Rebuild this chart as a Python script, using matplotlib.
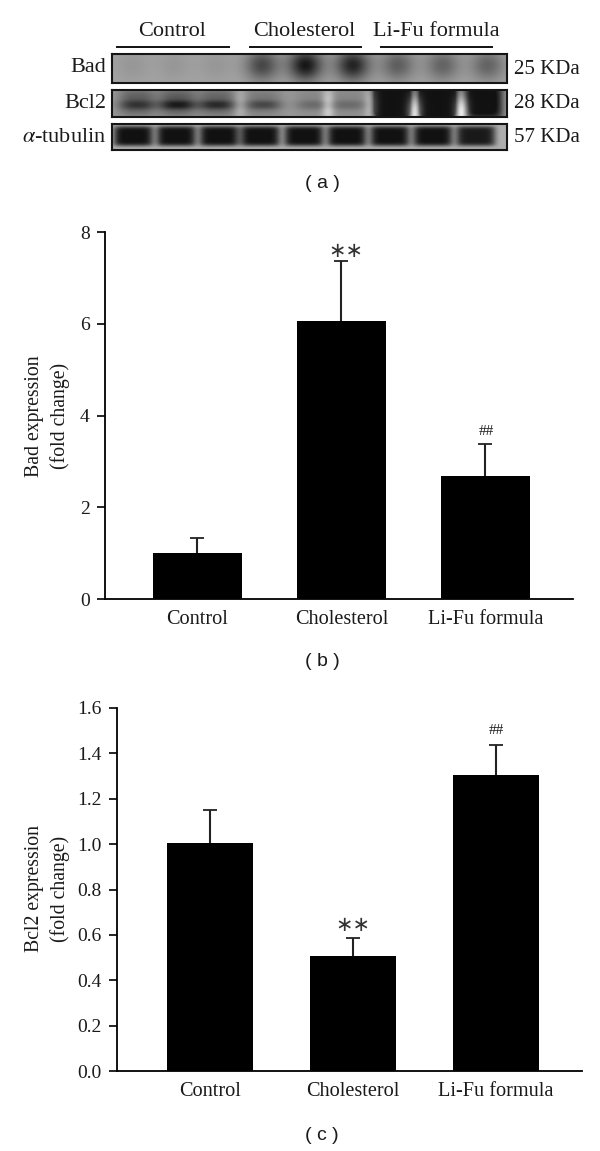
import matplotlib
matplotlib.use('Agg')
import matplotlib.pyplot as plt
import numpy as np

W, H = 600, 1151

groups = ['Control', 'Cholesterol', 'Li-Fu formula']
bad_mean = [1.0, 6.05, 2.68]
bad_err = [0.33, 1.31, 0.69]
bcl2_mean = [1.005, 0.505, 1.305]
bcl2_err = [0.145, 0.083, 0.13]

# blot lanes: centre (fraction of panel width) and darkness
bad_lanes = [.05, .156, .263, .38, .49, .61, .724, .838, .952]
bad_dark = [.05, .05, .05, .36, .55, .50, .27, .25, .25]
bcl2_lanes = [.063, .165, .265, .383, .51, .60]
bcl2_smear = [.24, .26, .22, .14, .08, .08]
bcl2_band = [.16, .24, .22, .18, .10, .10]
bcl2_gaps = [.324, .547, .658]
bcl2_gap_light = [.12, .26, .24]
lifu_lanes = [.71, .825, .94]
lifu_dark = [.95, .95, .60]
lifu_gaps = [.767, .886]
lifu_gap_light = [.50, .50]
tub_lanes = [.053, .162, .271, .375, .486, .595, .704, .813, .922]
tub_dark = [.62, .62, .62, .62, .62, .62, .62, .62, .58]

plt.rcParams['font.family'] = ['Liberation Serif', 'DejaVu Serif']
plt.rcParams['mathtext.fontset'] = 'stix'

fig = plt.figure(figsize=(W / 100, H / 100), dpi=100, facecolor='white')


def ax_px(left, top, right, bottom):
    return fig.add_axes([left / W, 1 - bottom / H, (right - left) / W, (bottom - top) / H])


def txt(x, y, s, **kw):
    kw.setdefault('ha', 'center')
    kw.setdefault('va', 'center')
    kw.setdefault('color', '#1a1a1a')
    fig.text(x / W, 1 - y / H, s, **kw)


def blob(xx, yy, cx, cy, sx, sy, power):
    return np.exp(-(np.abs(xx - cx) / sx) ** power - (np.abs(yy - cy) / sy) ** power)


def blot(top, bottom, bg, layers):
    ax = ax_px(112, top, 507, bottom)
    xx, yy = np.meshgrid(np.linspace(0, 1, 395), np.linspace(0, 1, bottom - top))
    img = np.full(xx.shape, bg)
    for lanes, dark, cy, sx, sy, power in layers:
        for c, d in zip(lanes, dark):
            img = np.clip(img - d * blob(xx, yy, c, cy, sx, sy, power), 0.07, 1)
    ax.imshow(img, cmap='gray', vmin=0, vmax=1, aspect='auto', interpolation='bilinear')
    ax.set_xticks([])
    ax.set_yticks([])
    for s in ax.spines.values():
        s.set_linewidth(1.5)
        s.set_color('#151515')


blot(54, 83, 0.64, [(bad_lanes, bad_dark, 0.38, 0.042, 0.55, 2)])
blot(90, 117, 0.60, [(bcl2_lanes, bcl2_smear, 0.45, 0.048, 0.55, 3),
                     (bcl2_lanes, bcl2_band, 0.55, 0.046, 0.17, 2.5),
                     (lifu_lanes, lifu_dark, 0.42, 0.05, 0.70, 5),
                     (bcl2_gaps, [-g for g in bcl2_gap_light], 0.6, 0.016, 0.8, 2),
                     (lifu_gaps, [-g for g in lifu_gap_light], 0.8, 0.018, 0.6, 2)])
blot(124, 150, 0.68, [(tub_lanes, tub_dark, 0.46, 0.05, 0.40, 6)])

# header of the blot
for name, x0, x1 in zip(groups, [117, 250, 381], [229, 361, 492]):
    fig.add_artist(plt.Line2D([x0 / W, x1 / W], [1 - 47 / H] * 2, color='#111111', lw=1.4))
txt(172, 32, 'Control', fontsize=16)
txt(304, 32, 'Cholesterol', fontsize=16)
txt(436, 32, 'Li-Fu formula', fontsize=16)

txt(106, 68, 'Bad', ha='right', fontsize=16)
txt(106, 103, 'Bcl2', ha='right', fontsize=16)
txt(106, 137, r'$\alpha$-tubulin', ha='right', fontsize=16)
txt(514, 69, '25 KDa', ha='left', fontsize=15)
txt(514, 104, '28 KDa', ha='left', fontsize=15)
txt(514, 138, '57 KDa', ha='left', fontsize=15)

for lab, y in zip(['( a )', '( b )', '( c )'], [184, 661, 1135]):
    txt(322, y, lab, fontsize=14, family='Liberation Sans')


def bars(ax, means, errs, width, xlim, ymax, ticks, ticklabels):
    x = np.arange(len(means))
    tops = np.array(means) + np.array(errs)
    ax.bar(x, means, width=width, color='black')
    ax.vlines(x, means, tops, color='#222222', lw=1.5)
    ax.plot(x, tops, linestyle='none', marker='_', ms=10, mew=1.3, color='#222222')
    ax.set_xlim(*xlim)
    ax.set_ylim(0, ymax)
    ax.set_xticks(x)
    ax.set_xticklabels(groups, fontsize=14.6, color='#1a1a1a')
    ax.set_yticks(ticks)
    ax.set_yticklabels(ticklabels, fontsize=14, color='#1a1a1a')
    ax.tick_params(axis='x', length=0, pad=8)
    ax.tick_params(axis='y', length=6, width=1.2, pad=5)
    ax.spines['top'].set_visible(False)
    ax.spines['right'].set_visible(False)
    ax.spines['left'].set_linewidth(1.3)
    ax.spines['bottom'].set_linewidth(1.3)
    ax.patch.set_alpha(0)


# panel b
ax_b = ax_px(105, 232, 573, 599)
bars(ax_b, bad_mean, bad_err, 0.62, (-0.642, 2.608), 8, [0, 2, 4, 6, 8], ['0', '2', '4', '6', '8'])
txt(34, 416, 'Bad expression', rotation=90, fontsize=14.2)
txt(60, 416, '(fold change)', rotation=90, fontsize=14.2)
txt(346, 251, '∗∗', fontsize=15, family='DejaVu Sans', color='#333333')
txt(486, 432, '##', fontsize=11)

# panel c
ax_c = ax_px(117, 708, 582, 1071)
bars(ax_c, bcl2_mean, bcl2_err, 0.60, (-0.65, 2.60), 1.6,
     [0, .2, .4, .6, .8, 1.0, 1.2, 1.4, 1.6],
     ['0.0', '0.2', '0.4', '0.6', '0.8', '1.0', '1.2', '1.4', '1.6'])
txt(34, 889, 'Bcl2 expression', rotation=90, fontsize=14.2)
txt(60, 889, '(fold change)', rotation=90, fontsize=14.2)
txt(353, 925, '∗∗', fontsize=15, family='DejaVu Sans', color='#333333')
txt(496, 731, '##', fontsize=11)

fig.savefig('out.png', dpi=100)
